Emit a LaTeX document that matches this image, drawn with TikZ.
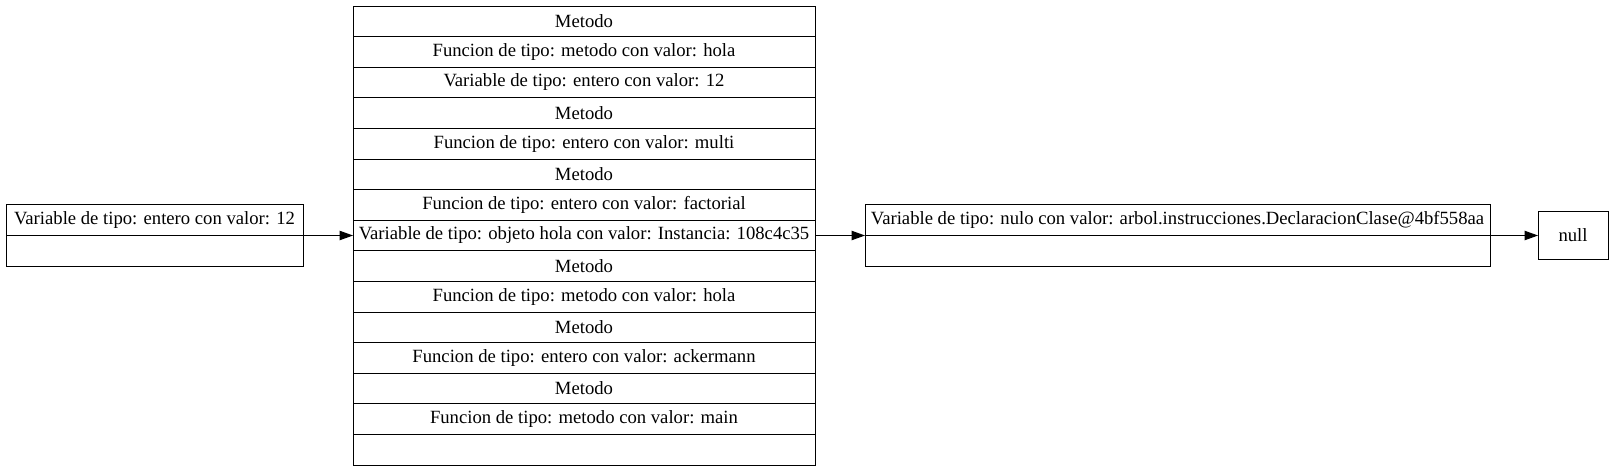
\documentclass[tikz,border=0pt]{standalone}
\usepackage{fontspec}
\setmainfont{Liberation Serif}
\usetikzlibrary{positioning,arrows.meta}
\tikzset{
    recfield/.style = {draw, rectangle, inner sep=0pt, outer sep=0pt,
        line width=0.75pt, font=\fontsize{14pt}{16pt}\selectfont},
    varslot/.style = {recfield, minimum width=222.75pt, minimum height=23.25pt},
    stackrow/.style = {recfield, minimum width=346.5pt, minimum height=22.95pt},
    wideslot/.style = {recfield, minimum width=468.75pt, minimum height=23pt},
    nullbox/.style = {recfield, minimum width=52.5pt, minimum height=36pt},
    arrow/.style = {draw, line width=0.75pt, -{Triangle[length=10pt,width=7pt]}}
}
\begin{document}
\begin{tikzpicture}
    \useasboundingbox (0,0) rectangle (1212pt,-354pt);
    % the stack of the environment
    \node [stackrow, anchor=north] (m1) at (438pt,-4.5pt) {Metodo};
    \node [stackrow, below=0pt of m1] (m2) {Funcion de tipo: metodo con valor: hola};
    \node [stackrow, below=0pt of m2] (m3) {Variable de tipo: entero con valor: 12};
    \node [stackrow, below=0pt of m3] (m4) {Metodo};
    \node [stackrow, below=0pt of m4] (m5) {Funcion de tipo: entero con valor: multi};
    \node [stackrow, below=0pt of m5] (m6) {Metodo};
    \node [stackrow, below=0pt of m6] (m7) {Funcion de tipo: entero con valor: factorial};
    \node [stackrow, below=0pt of m7] (m8) {Variable de tipo: objeto hola con valor: Instancia: 108c4c35};
    \node [stackrow, below=0pt of m8] (m9) {Metodo};
    \node [stackrow, below=0pt of m9] (m10) {Funcion de tipo: metodo con valor: hola};
    \node [stackrow, below=0pt of m10] (m11) {Metodo};
    \node [stackrow, below=0pt of m11] (m12) {Funcion de tipo: entero con valor: ackermann};
    \node [stackrow, below=0pt of m12] (m13) {Metodo};
    \node [stackrow, below=0pt of m13] (m14) {Funcion de tipo: metodo con valor: main};
    \node [stackrow, below=0pt of m14] (m15) {};
    % first record
    \node [varslot, left=37.5pt of m8.west, anchor=south east] (va) {Variable de tipo: entero con valor: 12};
    \node [varslot, below=0pt of va] (vb) {};
    \draw [arrow] (va.south east) -- (m8.west);
    % third record
    \node [wideslot, right=37.5pt of m8.east, anchor=south west] (wa) {Variable de tipo: nulo con valor: arbol.instrucciones.DeclaracionClase@4bf558aa};
    \node [wideslot, below=0pt of wa] (wb) {};
    \draw [arrow] (m8.east) -- (wa.south west);
    % end of the list
    \node [nullbox, right=36pt of wa.south east, anchor=west] (nul) {null};
    \draw [arrow] (wa.south east) -- (nul.west);
\end{tikzpicture}
\end{document}
